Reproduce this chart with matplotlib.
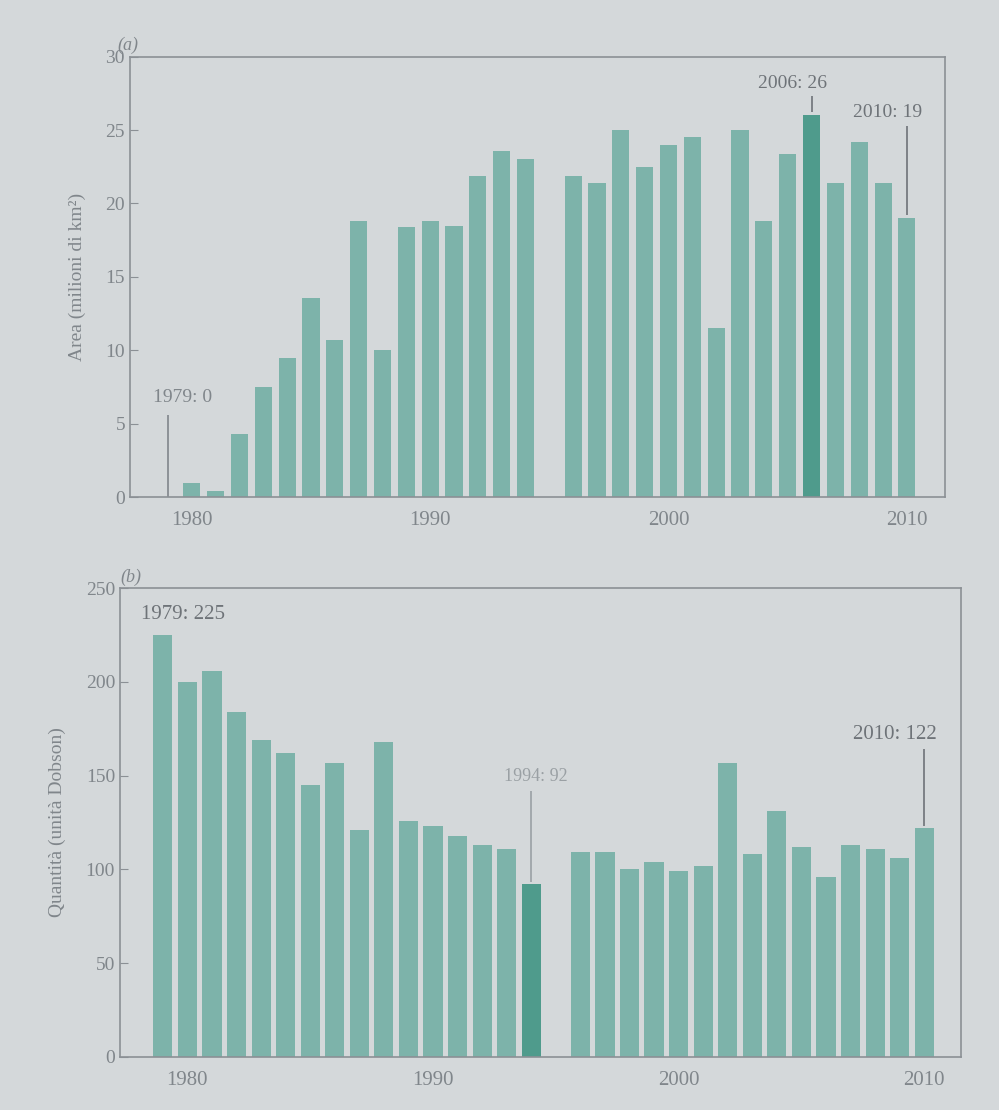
import matplotlib
matplotlib.use("Agg")
import matplotlib.pyplot as plt

# Ozone hole: (a) area, (b) minimum ozone; 1995 has no data
years_area = [1979, 1980, 1981, 1982, 1983, 1984, 1985, 1986, 1987, 1988, 1989,
              1990, 1991, 1992, 1993, 1994,
              1996, 1997, 1998, 1999, 2000, 2001, 2002, 2003, 2004, 2005,
              2006, 2007, 2008, 2009, 2010]
area = [0, 1.0, 0.4, 4.3, 7.5, 9.5, 13.6, 10.7, 18.8, 10.0, 18.4,
        18.8, 18.5, 21.9, 23.6, 23.0,
        21.9, 21.4, 25.0, 22.5, 24.0, 24.5, 11.5, 25.0, 18.8, 23.4,
        26, 21.4, 24.2, 21.4, 19]

years_dobson = years_area
dobson = [225, 200, 206, 184, 169, 162, 145, 157, 121, 168, 126,
          123, 118, 113, 111, 92,
          109, 109, 100, 104, 99, 102, 157, 108, 131, 112,
          96, 113, 111, 106, 122]

area_ticks = [0, 5, 10, 15, 20, 25, 30]
dobson_ticks = [0, 50, 100, 150, 200, 250]
year_ticks = [1980, 1990, 2000, 2010]

bar_color = "#7db3aa"
dark_color = "#4f9b8c"
bg_color = "#d4d8da"
text_color = "#80868b"
ann_color = "#6e7378"
frame_color = "#8b9095"

plt.rcParams["font.family"] = ["Liberation Serif", "DejaVu Serif"]

fig = plt.figure(figsize=(9.99, 11.10), dpi=100, facecolor=bg_color)
ax1 = fig.add_axes([0.13, 0.552, 0.816, 0.397])
ax2 = fig.add_axes([0.12, 0.048, 0.842, 0.422])


def style(ax, yticks):
    ax.set_facecolor(bg_color)
    for s in ax.spines.values():
        s.set_color(frame_color)
        s.set_linewidth(1.2)
    ax.set_yticks(yticks)
    ax.set_xticks(year_ticks)
    ax.tick_params(axis="y", direction="in", length=6, color=frame_color,
                   labelcolor=text_color, labelsize=14)
    ax.tick_params(axis="x", direction="out", length=0, color=frame_color,
                   labelcolor=text_color, labelsize=15, pad=10)


def callout(ax, year, value, line_top, text_x, text_y, label, color, size=14,
            gap=0.0):
    """Vertical leader from a bar top up to a label."""
    ax.vlines(year, value + gap, line_top, color=color, lw=1.2)
    ax.text(text_x, text_y, label, color=color, fontsize=size,
            ha="center", va="bottom")


# (a) area
colors1 = [dark_color if y == 2006 else bar_color for y in years_area]
ax1.bar(years_area, area, width=0.72, color=colors1)
ax1.set_xlim(1977.4, 2011.6)
ax1.set_ylim(0, 30)
style(ax1, area_ticks)
ax1.set_ylabel("Area (milioni di km²)", color=text_color, fontsize=14, labelpad=14)
ax1.text(-0.015, 1.005, "(a)", transform=ax1.transAxes, color=text_color,
         fontsize=13, style="italic", ha="left", va="bottom")

callout(ax1, 1979, area[0], 5.6, 1979.6, 6.2, "1979: 0", text_color)
callout(ax1, 2006, area[26], 27.3, 2005.2, 27.6, "2006: 26", ann_color, gap=0.2)
callout(ax1, 2010, area[30], 25.3, 2009.2, 25.6, "2010: 19", ann_color, gap=0.2)

# (b) minimum ozone
colors2 = [dark_color if y == 1994 else bar_color for y in years_dobson]
ax2.bar(years_dobson, dobson, width=0.78, color=colors2)
ax2.set_xlim(1977.25, 2011.5)
ax2.set_ylim(0, 250)
style(ax2, dobson_ticks)
ax2.set_ylabel("Quantità (unità Dobson)", color=text_color, fontsize=14, labelpad=14)
ax2.text(0.0, 1.005, "(b)", transform=ax2.transAxes, color=text_color,
         fontsize=13, style="italic", ha="left", va="bottom")

ax2.text(1978.1, 231, "1979: 225", color=ann_color, fontsize=15,
         ha="left", va="bottom")
callout(ax2, 1994, dobson[15], 142, 1994.2, 145, "1994: 92", "#9aa0a4",
        size=13, gap=1)
callout(ax2, 2010, dobson[30], 164, 2008.8, 167, "2010: 122", ann_color,
        size=15, gap=1)

fig.savefig("out.png", dpi=100, facecolor=bg_color)
